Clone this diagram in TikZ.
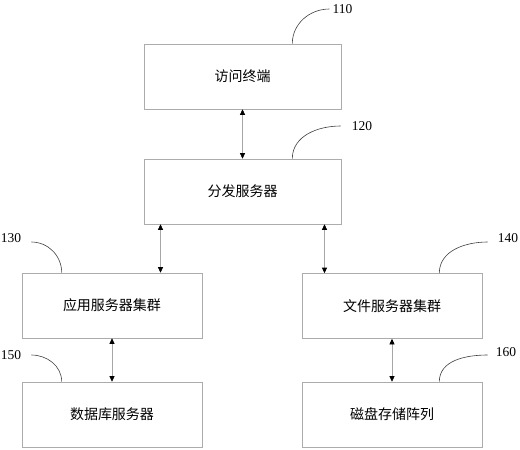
\documentclass[tikz,border=0pt]{standalone}
\usepackage{fontspec}
\setmainfont{Liberation Serif}
\newfontfamily\cjk{Noto Sans CJK SC}
\usetikzlibrary{arrows.meta}
\begin{document}
\begin{tikzpicture}[
    x=1pt, y=-1pt,
    box/.style={rectangle, draw=gray!65, line width=0.6pt, minimum height=65pt, inner sep=0pt, font=\cjk\fontsize{14}{16}\selectfont},
    wide/.style={box, minimum width=197pt},
    narrow/.style={box, minimum width=180pt},
    num/.style={inner sep=0pt, font=\fontsize{13.5}{15}\selectfont},
    link/.style={draw=gray!70, line width=0.6pt, {Triangle[length=5.5pt,width=5pt,black]}-{Triangle[length=5.5pt,width=5pt,black]}},
    lead/.style={draw=black!75, line width=0.6pt}
]
\useasboundingbox (0,0) rectangle (520,450);
% boxes
\node[wide]   (term) at (242.5,76.5)  {访问终端};
\node[wide]   (dist) at (242.5,191.5) {分发服务器};
\node[narrow] (app)  at (112,305.5)   {应用服务器集群};
\node[narrow] (file) at (392,306)     {文件服务器集群};
\node[narrow] (db)   at (112,414.5)   {数据库服务器};
\node[narrow] (disk) at (392,414.5)   {磁盘存储阵列};
% reference numbers
\node[num] (l110) at (342.5,9) {110};
\node[num] (l120) at (362,126) {120};
\node[num] (l130) at (11,238)  {130};
\node[num] (l140) at (508,238) {140};
\node[num] (l150) at (11,355)  {150};
\node[num] (l160) at (506,352) {160};
% links
\draw[link] (term.south) -- (dist.north);
\draw[link] ([xshift=-82pt]dist.south) -- ([xshift=-82pt]dist.south |- app.north);
\draw[link] ([xshift=82pt]dist.south) -- ([xshift=82pt]dist.south |- file.north);
\draw[link] (app.south) -- (db.north);
\draw[link] (file.south) -- (disk.north);
% leaders
\draw[lead] ([xshift=-49pt]term.north east) to[out=90, in=180] ([xshift=-3pt]l110.west);
\draw[lead] ([xshift=-49pt]dist.north east) to[out=90, in=180] ([xshift=-11pt]l120.west);
\draw[lead] ([xshift=40pt]app.north west)   to[out=90, in=0]   ([xshift=10pt,yshift=-4pt]l130.east);
\draw[lead] ([xshift=-43pt]file.north east) to[out=90, in=180] ([xshift=-10pt,yshift=-4pt]l140.west);
\draw[lead] ([xshift=40pt]db.north west)    to[out=90, in=0]   ([xshift=10pt]l150.east);
\draw[lead] ([xshift=-43pt]disk.north east) to[out=90, in=180] ([xshift=-8pt,yshift=-3pt]l160.west);
\end{tikzpicture}
\end{document}
